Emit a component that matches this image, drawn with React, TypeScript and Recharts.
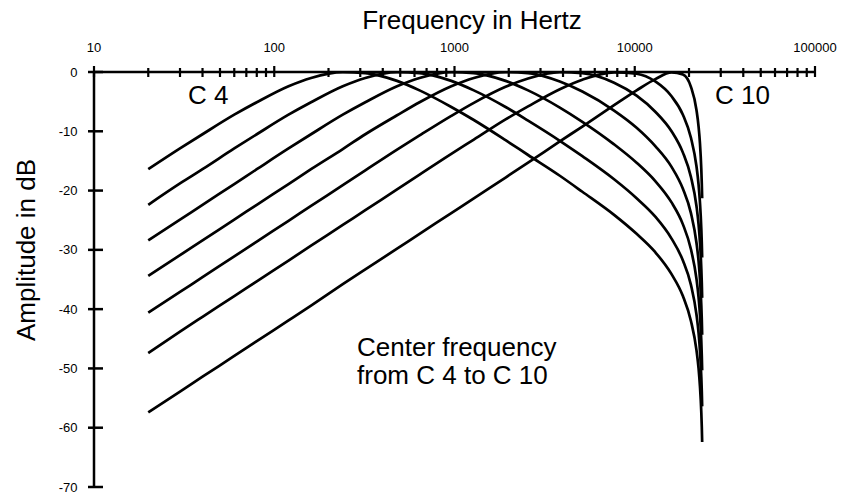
import React from 'react';
import { LineChart, Line, XAxis, YAxis } from 'recharts';

// Frequency grid (Hz)
const freqs = [20, 30, 40, 60, 80, 120, 160, 240, 320, 480, 640, 960, 1280, 1920, 2560, 3840, 5120, 7680, 10240, 13000, 16000, 18500, 20500, 22000, 22600, 23000, 23400, 23550, 23661];

// Amplitude in dB for each centre frequency C4 .. C10
const c4 = [-16.4, -12.9, -10.5, -7.2, -5.1, -2.4, -1.0, -0.03, -0.18, -1.5, -3.1, -5.9, -8.1, -11.5, -14.0, -17.5, -20.2, -24.1, -27.3, -30.4, -34.1, -37.8, -42.0, -46.9, -50.0, -53.0, -57.4, -59.9, -62.4];
const c5 = [-22.4, -18.8, -16.4, -12.9, -10.5, -7.2, -5.1, -2.4, -1.0, -0.03, -0.18, -1.5, -3.1, -5.9, -8.2, -11.6, -14.2, -18.1, -21.3, -24.4, -28.1, -31.8, -35.9, -40.9, -44.0, -47.0, -51.4, -53.9, -56.4];
const c6 = [-28.4, -24.9, -22.4, -18.9, -16.4, -12.9, -10.5, -7.2, -5.1, -2.4, -1.0, -0.03, -0.18, -1.5, -3.1, -6.0, -8.4, -12.2, -15.3, -18.4, -22.0, -25.7, -29.9, -34.9, -38.0, -40.9, -45.4, -47.9, -50.3];
const c7 = [-34.4, -30.9, -28.4, -24.9, -22.4, -18.9, -16.4, -13.0, -10.5, -7.3, -5.1, -2.4, -1.0, -0.03, -0.18, -1.6, -3.3, -6.5, -9.4, -12.5, -16.0, -19.7, -23.8, -28.8, -31.9, -34.9, -39.3, -41.8, -44.3];
const c8 = [-40.6, -37.1, -34.6, -31.1, -28.6, -25.1, -22.6, -19.1, -16.6, -13.1, -10.7, -7.4, -5.2, -2.5, -1.1, -0.04, -0.2, -1.8, -4.0, -6.7, -10.0, -13.6, -17.7, -22.6, -25.7, -28.7, -33.1, -35.6, -38.1];
const c9 = [-47.4, -43.8, -41.3, -37.8, -35.3, -31.8, -29.3, -25.8, -23.3, -19.8, -17.3, -13.8, -11.4, -8.0, -5.8, -2.9, -1.3, -0.05, -0.29, -1.6, -4.1, -7.2, -11.1, -15.9, -19.0, -22.0, -26.4, -28.9, -31.3];
const c10 = [-57.4, -53.9, -51.4, -47.9, -45.4, -41.9, -39.4, -35.8, -33.3, -29.8, -27.3, -23.8, -21.3, -17.8, -15.3, -11.7, -9.2, -5.6, -3.1, -1.2, -0.06, -0.42, -2.5, -6.4, -9.2, -12.0, -16.4, -18.9, -21.3];

const seriesKeys = ['c4', 'c5', 'c6', 'c7', 'c8', 'c9', 'c10'];
const seriesValues = [c4, c5, c6, c7, c8, c9, c10];

// Tick values
const xTicks = [
  10, 20, 30, 40, 50, 60, 70, 80, 90,
  100, 200, 300, 400, 500, 600, 700, 800, 900,
  1000, 2000, 3000, 4000, 5000, 6000, 7000, 8000, 9000,
  10000, 20000, 30000, 40000, 50000, 60000, 70000, 80000, 90000,
  100000,
];
const xMajor = [10, 100, 1000, 10000, 100000];
const yTicks = [0, -10, -20, -30, -40, -50, -60, -70];

const data = freqs.map((f, i) => {
  const row: Record<string, number> = { f };
  seriesKeys.forEach((k, j) => {
    row[k] = seriesValues[j][i];
  });
  return row;
});

const FONT = '"Liberation Sans", Arial, Helvetica, sans-serif';

const XTick = (props: any) => {
  const { x, y, payload } = props;
  const v = payload.value;
  const major = xMajor.includes(v);
  return (
    <g>
      <line x1={x} x2={x} y1={y - (major ? 6 : 4)} y2={y + 5} stroke="#000" strokeWidth={2.2} />
      {major && (
        <text x={x} y={y - 20} textAnchor="middle" fontSize={13} fontFamily={FONT} fill="#000">
          {v}
        </text>
      )}
    </g>
  );
};

const YTick = (props: any) => {
  const { x, y, payload } = props;
  return (
    <g>
      <line x1={x - 6} x2={x + 9} y1={y} y2={y} stroke="#000" strokeWidth={2.5} />
      <text x={x - 16.5} y={y + 4.6} textAnchor="end" fontSize={13} fontFamily={FONT} fill="#000">
        {payload.value}
      </text>
    </g>
  );
};

export default function App() {
  return (
    <div style={{ position: 'absolute', left: 0, top: 0, width: 841, height: 495, background: '#fff' }}>
      <LineChart
        width={841}
        height={495}
        data={data}
        margin={{ top: 42, right: 26, bottom: 8, left: 54 }}
      >
        <XAxis
          dataKey="f"
          type="number"
          scale="log"
          domain={[10, 100000]}
          orientation="top"
          height={30}
          ticks={xTicks}
          interval={0}
          tick={<XTick />}
          tickLine={false}
          tickSize={0}
          tickMargin={0}
          axisLine={{ stroke: '#000', strokeWidth: 2.5 }}
          allowDataOverflow
        />
        <YAxis
          type="number"
          domain={[-70, 0]}
          ticks={yTicks}
          interval={0}
          width={40}
          tick={<YTick />}
          tickLine={false}
          tickSize={0}
          tickMargin={0}
          axisLine={{ stroke: '#000', strokeWidth: 2.5 }}
          allowDataOverflow
        />
        {seriesKeys.map((k) => (
          <Line
            key={k}
            dataKey={k}
            type="monotone"
            stroke="#000"
            strokeWidth={2.7}
            dot={false}
            activeDot={false}
            isAnimationActive={false}
          />
        ))}
        <text x={472} y={29} textAnchor="middle" fontSize={26} fontFamily={FONT} fill="#000">
          Frequency in Hertz
        </text>
        <text transform="translate(35, 250) rotate(-90)" textAnchor="middle" fontSize={26} fontFamily={FONT} fill="#000">
          Amplitude in dB
        </text>
        <text x={188} y={104} fontSize={26} fontFamily={FONT} fill="#000">C 4</text>
        <text x={715} y={104} fontSize={26} fontFamily={FONT} fill="#000">C 10</text>
        <text x={357} y={356} fontSize={26} fontFamily={FONT} fill="#000">Center frequency</text>
        <text x={357} y={384} fontSize={26} fontFamily={FONT} fill="#000">from C 4 to C 10</text>
      </LineChart>
    </div>
  );
}
